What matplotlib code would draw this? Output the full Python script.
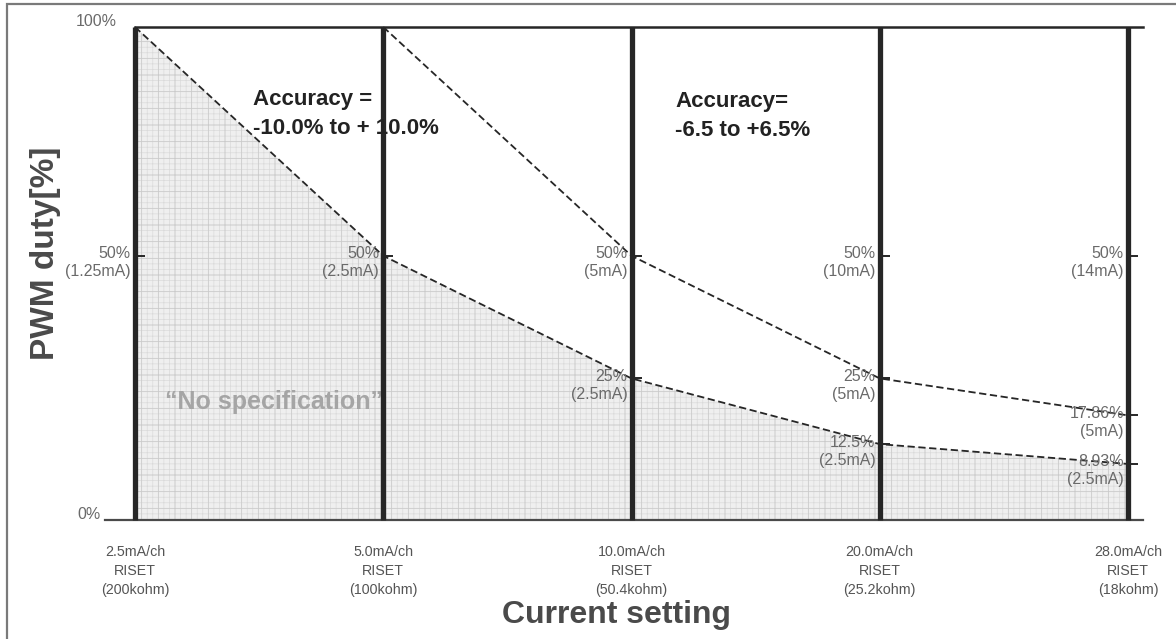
import numpy as np
import matplotlib
matplotlib.use("Agg")
import matplotlib.pyplot as plt
from matplotlib.patches import Rectangle
from matplotlib.markers import TICKRIGHT

plt.rcParams["font.family"] = ["Liberation Sans", "DejaVu Sans"]
plt.rcParams["hatch.linewidth"] = 0.5

# Current settings (x categories)
currents = ["2.5mA/ch", "5.0mA/ch", "10.0mA/ch", "20.0mA/ch", "28.0mA/ch"]
riset = ["200kohm", "100kohm", "50.4kohm", "25.2kohm", "18kohm"]
# Output current at 50% duty for each setting
half_duty_ma = ["1.25", "2.5", "5", "10", "14"]

# Lower accuracy boundary (2.5mA output) -> PWM duty [%]
lower_x = [0, 1, 2, 3, 4]
lower_duty = [100, 50, 25, 12.5, 8.93]
lower_ma = "2.5"
# Upper accuracy boundary (5mA output) -> PWM duty [%]
upper_x = [1, 2, 3, 4]
upper_duty = [100, 50, 25, 17.86]
upper_ma = "5"

INK = "#262626"
LABEL = "#6a6a6a"
W, H = 1176, 639

fig = plt.figure(figsize=(W / 100, H / 100), dpi=100)
ax = fig.add_axes([135 / W, 1 - 520 / H, 993 / W, 493 / H])

# slightly compressed duty scale
p = 0.9
ax.set_yscale("function", functions=(lambda v: np.sign(v) * np.abs(v) ** p,
                                     lambda u: np.sign(u) * np.abs(u) ** (1 / p)))
ax.set_xlim(0, 4)
ax.set_ylim(0, 100)
ax.set_axis_off()

# "No specification" region under the lower boundary
ax.fill_between(lower_x, 0, lower_duty, facecolor="#efefef", edgecolor="#dadada",
                hatch="+++", linewidth=0, zorder=1)
ax.fill_between(lower_x, 0, lower_duty, facecolor="none", edgecolor="#cbcbcb",
                hatch="+", linewidth=0, zorder=1.1)

# frame lines
ax.plot([-0.12, 4.06], [0, 0], color="#4a4a4a", lw=1.6, clip_on=False, zorder=3)
ax.plot([0, 4.06], [100, 100], color=INK, lw=1.8, clip_on=False, zorder=3)
for xi in range(len(currents)):
    ax.plot([xi, xi], [0, 100], color=INK, lw=3.8, clip_on=False, zorder=4,
            solid_capstyle="butt")
    ax.plot([xi], [50], marker=TICKRIGHT, ms=7, mew=1.4, color=INK,
            clip_on=False, zorder=4)

# accuracy boundaries
ax.plot(lower_x, lower_duty, color=INK, lw=1.3, ls=(0, (4, 2)), zorder=5, clip_on=False)
ax.plot(upper_x, upper_duty, color=INK, lw=1.3, ls=(0, (4, 2)), zorder=5, clip_on=False)
ax.plot(lower_x[2:], lower_duty[2:], ls="none", marker=TICKRIGHT, ms=7, mew=1.4,
        color=INK, clip_on=False, zorder=4)
ax.plot(upper_x[2:], upper_duty[2:], ls="none", marker=TICKRIGHT, ms=7, mew=1.4,
        color=INK, clip_on=False, zorder=4)


def tag(x, y, text):
    ax.annotate(text, (x, y), xytext=(-3, -5), textcoords="offset points",
                ha="right", va="center", fontsize=11.5, color=LABEL,
                linespacing=1.25, zorder=6, annotation_clip=False)


for xi, ma in enumerate(half_duty_ma):
    tag(xi, 50, f"50%\n({ma}mA)")
for xi, d in zip(lower_x[2:], lower_duty[2:]):
    tag(xi, d, f"{d:g}%\n({lower_ma}mA)")
for xi, d in zip(upper_x[2:], upper_duty[2:]):
    tag(xi, d, f"{d:g}%\n({upper_ma}mA)")

ax.annotate("100%", (0, 100), xytext=(-13, 4), textcoords="offset points",
            ha="right", va="center", fontsize=11.5, color=LABEL, annotation_clip=False)
ax.annotate("0%", (0, 0), xytext=(-25, 4), textcoords="offset points",
            ha="right", va="center", fontsize=11.5, color=LABEL, annotation_clip=False)

# accuracy notes
fig.text(253 / W, 1 - 114 / H, "Accuracy =\n-10.0% to + 10.0%", fontsize=16,
         fontweight="bold", color="#222222", ha="left", va="center",
         linespacing=1.55, zorder=0.5)
fig.text(675 / W, 1 - 116 / H, "Accuracy=\n-6.5 to +6.5%", fontsize=16,
         fontweight="bold", color="#222222", ha="left", va="center",
         linespacing=1.55, zorder=0.5)
ax.text(0.56, 20.5, "\u201cNo specification\u201d", fontsize=18, fontweight="bold",
        color="#a5a5a5", ha="center", va="center", zorder=2)

# category labels
for xi, (c, r) in enumerate(zip(currents, riset)):
    ax.annotate(f"{c}\nRISET\n({r})", (xi, 0), xytext=(0, -18), textcoords="offset points",
                ha="center", va="top", fontsize=10.3, color="#555555",
                linespacing=1.45, annotation_clip=False)

fig.text(616 / W, 1 - 615 / H, "Current setting", fontsize=23, fontweight="bold",
         color="#4a4a4a", ha="center", va="center")
fig.text(46 / W, 1 - 253 / H, "PWM duty[%]", fontsize=24, fontweight="bold",
         color="#4a4a4a", ha="center", va="center", rotation=90)

# outer border
fig.add_artist(Rectangle((7 / W, -0.05), 1.05, 1.05 - 4 / H,
                         transform=fig.transFigure, fill=False,
                         edgecolor="#7a7a7a", lw=1.6, clip_on=False))

fig.savefig("out.png", dpi=100, facecolor="white")
